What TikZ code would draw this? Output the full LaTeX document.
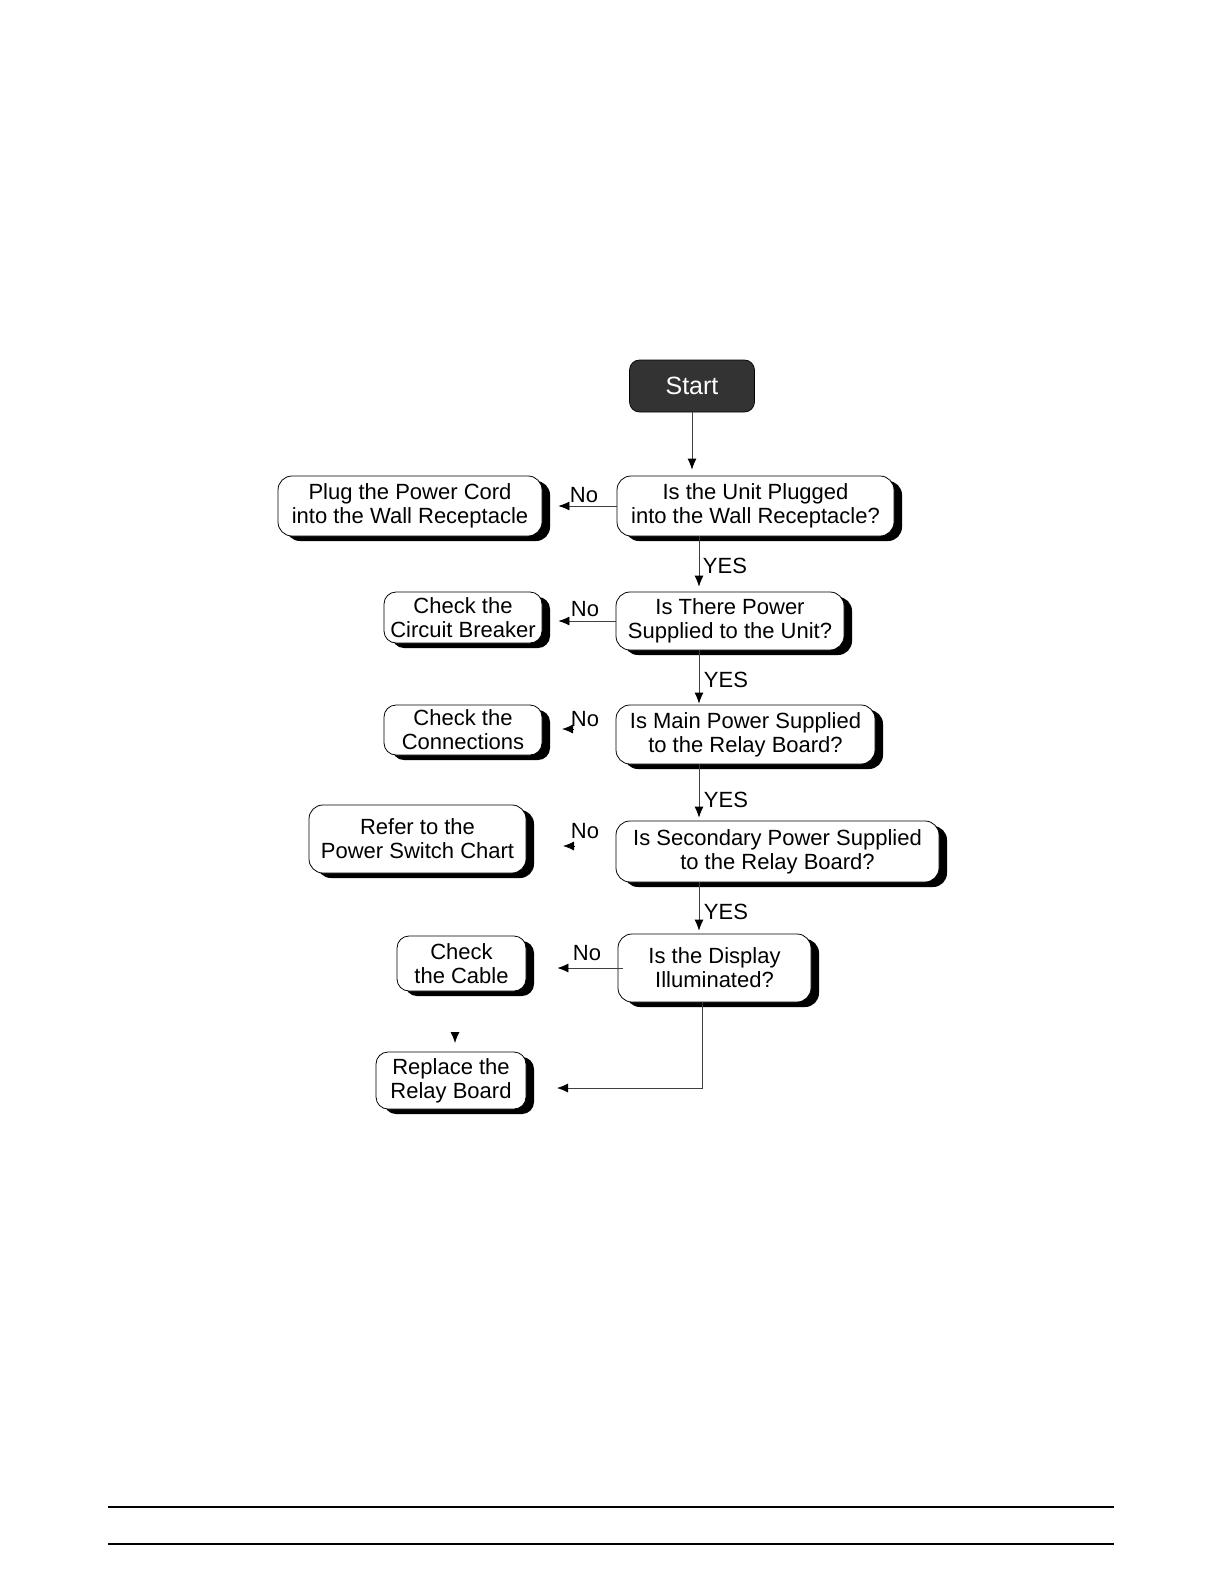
\documentclass[tikz,border=0pt]{standalone}
\usepackage{fontspec}
\setmainfont{Liberation Sans}
\usetikzlibrary{shadows,arrows.meta,calc}
\begin{document}
\begin{tikzpicture}[x=1pt,y=-1pt,
  box/.style={draw=black, line width=0.8pt, fill=white, rounded corners=14pt,
    align=center, inner sep=0pt, font=\fontsize{22}{24}\selectfont,
    drop shadow={shadow xshift=8pt, shadow yshift=-5pt, fill=black, opacity=1}},
  startbox/.style={draw=black, line width=0.7pt, fill=black!80, rounded corners=10pt,
    text=white, inner sep=0pt, font=\fontsize{25}{27}\selectfont},
  lbl/.style={inner sep=0pt, font=\fontsize{22}{24}\selectfont},
  arr/.style={draw=black!75, line width=0.8pt, -{Latex[length=11pt,width=9pt,color=black]}},
  tiponly/.style={draw=black, line width=0.8pt, -{Latex[length=11pt,width=9pt,color=black]}}
]
\useasboundingbox (0,0) rectangle (1224,1584);

\node[startbox, minimum width=125pt, minimum height=52pt] (start) at (692,386) {Start};

\node[box, minimum width=277pt, minimum height=60pt] (q1) at (755.5,506) {Is the Unit Plugged\\into the Wall Receptacle?};
\node[box, minimum width=264pt, minimum height=60pt] (plug) at (410,506) {Plug the Power Cord\\into the Wall Receptacle};

\node[box, minimum width=228pt, minimum height=58pt] (q2) at (730,621) {Is There Power\\Supplied to the Unit?};
\node[box, minimum width=158pt, minimum height=51pt, rounded corners=12pt] (circ) at (463,617.5) {Check the\\Circuit Breaker};

\node[box, minimum width=259pt, minimum height=59pt] (q3) at (745.5,734.5) {Is Main Power Supplied\\to the Relay Board?};
\node[box, minimum width=158pt, minimum height=50pt, rounded corners=12pt] (conn) at (463,730) {Check the\\Connections};

\node[box, minimum width=323pt, minimum height=61pt] (q4) at (777.5,851.5) {Is Secondary Power Supplied\\to the Relay Board?};
\node[box, minimum width=217pt, minimum height=68pt] (refer) at (417.5,839) {Refer to the\\Power Switch Chart};

\node[box, minimum width=193pt, minimum height=68pt] (q5) at (714.5,968) {Is the Display\\Illuminated?};
\node[box, minimum width=129pt, minimum height=55pt, rounded corners=12pt] (cable) at (461.5,963.5) {Check\\the Cable};

\node[box, minimum width=150pt, minimum height=57pt, rounded corners=12pt] (repl) at (451,1080.5) {Replace the\\Relay Board};

% vertical connectors
\coordinate (ax) at (699,0);
\draw[arr, shorten >=6pt] (start.south) -- (start.south |- q1.north);
\draw[arr, shorten >=5pt] (q1.south -| ax) -- (q2.north -| ax);
\draw[arr, shorten >=1pt] (q2.south -| ax) -- (q3.north -| ax);
\draw[arr, shorten >=3pt] (q3.south -| ax) -- (q4.north -| ax);
\draw[arr, shorten >=3pt] (q4.south -| ax) -- (q5.north -| ax);

% horizontal No connectors
\draw[arr, shorten >=16pt] (q1.west) -- (q1.west -| plug.east);
\draw[arr, shorten >=16pt] (q2.west) -- (q2.west -| circ.east);
\draw[arr, shorten >=31pt, shorten <=-5pt] (q5.west) -- (q5.west -| cable.east);

% arrowheads without lines
\coordinate (t3a) at (573,729); \coordinate (t3b) at (562,729);
\draw[tiponly] (t3a) -- (t3b);
\coordinate (t4a) at (574,846); \coordinate (t4b) at (563,846);
\draw[tiponly] (t4a) -- (t4b);
\coordinate (t6a) at (455,1032); \coordinate (t6b) at (455,1043);
\draw[tiponly] (t6a) -- (t6b);

% q5 to replace
\coordinate (bend) at (702,1088);
\coordinate (rtip) at (557,1088);
\draw[arr] (q5.south -| bend) -- (bend) -- (rtip);

% labels
\node[lbl] (n1) at (584,495) {No};
\node[lbl] (n2) at (585,609) {No};
\node[lbl] (n3) at (585,719) {No};
\node[lbl] (n4) at (585,831) {No};
\node[lbl] (n5) at (587,953) {No};
\node[lbl] (y1) at (725,566) {YES};
\node[lbl] (y2) at (726,680) {YES};
\node[lbl] (y3) at (726,800) {YES};
\node[lbl] (y4) at (726,912) {YES};

% footer rules
\draw[line width=1.3pt] (108,1507) -- (1114,1507);
\draw[line width=1.3pt] (108,1544) -- (1114,1544);
\end{tikzpicture}
\end{document}
